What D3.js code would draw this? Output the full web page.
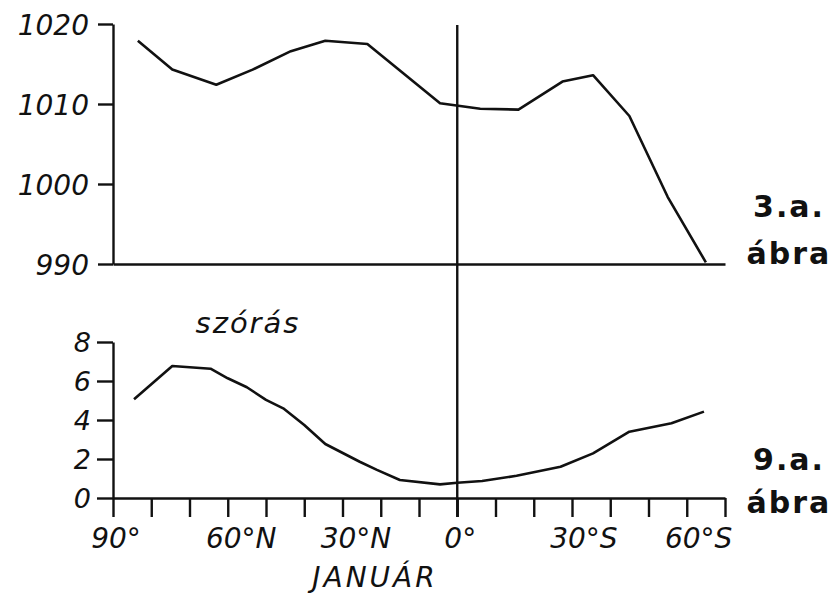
<!DOCTYPE html>
<html>
<head>
<meta charset="utf-8">
<script src="https://cdn.jsdelivr.net/npm/d3@7/dist/d3.min.js"></script>
<style>
	body { margin: 0; background: #fff; }
	svg { display: block; }
	.lbl { font-family: "DejaVu Sans", sans-serif; font-style: italic; fill: #111; }
	.hand { font-family: "DejaVu Sans", sans-serif; font-weight: bold; fill: #111; }
</style>
</head>
<body>
<script>
// sea level pressure, January (hPa) by latitude (+N / -S)
var pressLat = [83.5, 74.5, 63, 53.5, 43.5, 34.5, 23.5, 4.5, -6, -16, -27.5, -35.5, -45, -55, -65];
var pressVal = [1017.9, 1014.3, 1012.4, 1014.3, 1016.6, 1017.9, 1017.5, 1010.1, 1009.4, 1009.3, 1012.8, 1013.6, 1008.5, 998.4, 990.2];

// standard deviation ("szórás")
var sdLat = [84.5, 74.5, 64.5, 60, 55, 50, 45.5, 40, 34.5, 25.5, 21, 15, 4.5, 0, -6.5, -15.5, -27, -35.5, -45, -56, -64.5];
var sdVal = [5.06, 6.77, 6.63, 6.14, 5.68, 5.03, 4.6, 3.74, 2.77, 1.86, 1.44, 0.92, 0.7, 0.78, 0.87, 1.14, 1.6, 2.29, 3.4, 3.83, 4.43];

var pressTicks = [990, 1000, 1010, 1020];
var sdTicks = [0, 2, 4, 6, 8];
var latTicks = [90, 80, 70, 60, 50, 40, 30, 20, 10, 0, -10, -20, -30, -40, -50, -60, -70];
var labelLats = [90, 60, 30, 0, -30, -60];
var labelNums = ["90", "60", "30", "0", "30", "60"];
var labelSufs = ["°", "°N", "°N", "°", "°S", "°S"];

var W = 836, H = 597;
var svg = d3.select("body").append("svg")
	.attr("width", W)
	.attr("height", H);

var x = d3.scaleLinear().domain([90, -70]).range([113, 725]);
var yTop = d3.scaleLinear().domain([990, 1020]).range([264, 24]);
var yBot = d3.scaleLinear().domain([0, 8]).range([498, 342]);

var tickDown = 19;

// 0 degree line through both panels
svg.append("line")
	.attr("x1", x(0)).attr("x2", x(0))
	.attr("y1", yTop(1020) + 1).attr("y2", yBot(0) + tickDown)
	.attr("stroke", "#111")
	.attr("stroke-width", 2.4);

// top panel axes
var gTopY = svg.append("g")
	.attr("transform", "translate(" + x(90) + ",0)")
	.call(d3.axisLeft(yTop).tickValues(pressTicks).tickSize(15).tickSizeOuter(0).tickPadding(9).tickFormat(d3.format("d")));
gTopY.selectAll("text").attr("class", "lbl").attr("font-size", 28).attr("font-family", null).attr("dy", "0.38em");

svg.append("g")
	.attr("transform", "translate(0," + yTop(990) + ")")
	.call(d3.axisBottom(x).tickValues([]).tickSizeOuter(0));

// bottom panel axes
var gBotY = svg.append("g")
	.attr("transform", "translate(" + x(90) + ",0)")
	.call(d3.axisLeft(yBot).tickValues(sdTicks).tickSize(16).tickSizeOuter(0).tickPadding(6));
gBotY.selectAll("text").attr("class", "lbl").attr("font-size", 27).attr("font-family", null).attr("dy", "0.36em");

svg.append("g")
	.attr("transform", "translate(0," + yBot(0) + ")")
	.call(d3.axisBottom(x).tickValues(latTicks).tickSize(tickDown).tickSizeOuter(0).tickFormat(""));

svg.selectAll(".domain, .tick line")
	.attr("stroke", "#111")
	.attr("stroke-width", 2.4);

// latitude labels, number part roughly centred on its tick
labelLats.forEach(function (lat, i) {
	var t = svg.append("text")
		.attr("class", "lbl")
		.attr("font-size", 28)
		.attr("y", yBot(0) + 50);
	var num = t.append("tspan").text(labelNums[i]);
	t.append("tspan").text(labelSufs[i]);
	var w = num.node().getComputedTextLength();
	t.attr("x", x(lat) - w / 2 - 4);
});

// data lines
var linePress = d3.line()
	.x(function (d, i) { return x(pressLat[i]); })
	.y(function (d) { return yTop(d); });
var lineSd = d3.line()
	.x(function (d, i) { return x(sdLat[i]); })
	.y(function (d) { return yBot(d); });

svg.append("path")
	.datum(pressVal)
	.attr("d", linePress)
	.attr("fill", "none")
	.attr("stroke", "#111")
	.attr("stroke-width", 2.6)
	.attr("stroke-linejoin", "round");

svg.append("path")
	.datum(sdVal)
	.attr("d", lineSd)
	.attr("fill", "none")
	.attr("stroke", "#111")
	.attr("stroke-width", 2.6)
	.attr("stroke-linejoin", "round");

// texts
svg.append("text").attr("class", "lbl")
	.attr("x", 248).attr("y", 333)
	.attr("text-anchor", "middle")
	.attr("font-size", 29).attr("letter-spacing", 2)
	.text("szórás");

svg.append("text").attr("class", "lbl")
	.attr("x", 375).attr("y", 587)
	.attr("text-anchor", "middle")
	.attr("font-size", 28).attr("letter-spacing", 3)
	.text("JANUÁR");

var handTexts = [["3.a.", 217], ["ábra", 264], ["9.a.", 470], ["ábra", 513]];
handTexts.forEach(function (h) {
	svg.append("text").attr("class", "hand")
		.attr("x", 789).attr("y", h[1])
		.attr("text-anchor", "middle")
		.attr("font-size", 30).attr("letter-spacing", 2)
		.text(h[0]);
});
</script>
</body>
</html>
